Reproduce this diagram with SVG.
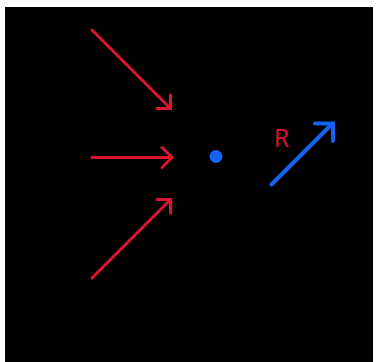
<svg xmlns="http://www.w3.org/2000/svg" width="376" height="362" viewBox="0 0 376 362">
<style>
.red{stroke:#dc1430;stroke-width:3;fill:none;stroke-linecap:round;stroke-linejoin:miter}
.blue{stroke:#1462f0;stroke-width:4;fill:none;stroke-linecap:round;stroke-linejoin:miter}
</style>
<rect x="0" y="0" width="376" height="362" fill="#ffffff"/>
<rect x="5" y="7" width="368" height="355" fill="#000000"/>
<g id="connectors">
<g id="arrow-top"><line class="red" x1="92" y1="30" x2="170" y2="108"/><polyline class="red" points="157,108.5 170.5,108.5 170.5,95"/></g>
<g id="arrow-mid"><line class="red" x1="92" y1="157.5" x2="171" y2="157.5"/><polyline class="red" points="162,147.5 172,157.5 162,167.5"/></g>
<g id="arrow-bot"><line class="red" x1="92" y1="278" x2="170" y2="200"/><polyline class="red" points="157,199.5 170.5,199.5 170.5,213"/></g>
<g id="arrow-R"><line class="blue" x1="271.5" y1="184.5" x2="332" y2="124"/><polyline class="blue" points="315,123.5 333,123.5 333,141"/></g>
</g>
<g id="point"><circle cx="216" cy="156.5" r="6.5" fill="#1462f0"/></g>
<g id="label-R"><text x="281.5" y="146.5" font-family="Open Sans, Liberation Sans, sans-serif" font-size="25" fill="#dc1430" text-anchor="middle">R</text></g>
</svg>
